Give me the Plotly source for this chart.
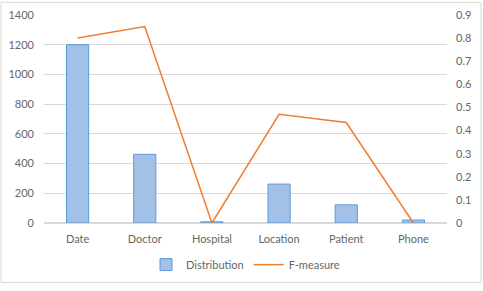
import plotly.graph_objects as go

categories = ["Date", "Doctor", "Hospital", "Location", "Patient", "Phone"]
distribution = [1200, 462, 8, 262, 122, 20]
f_measure = [0.80, 0.85, 0.0, 0.47, 0.435, 0.0]
left_ticks = [0, 200, 400, 600, 800, 1000, 1200, 1400]
right_ticks = [0, 0.1, 0.2, 0.3, 0.4, 0.5, 0.6, 0.7, 0.8, 0.9]

font = dict(family="Lato, Open Sans, sans-serif", size=11, color="#666666")

fig = go.Figure()
fig.add_trace(go.Bar(
    x=categories, y=distribution, name="Distribution",
    marker=dict(color="#a3c0e6", line=dict(color="#5b9bd5", width=1)),
    width=0.33,
))
fig.add_trace(go.Scatter(
    x=categories, y=f_measure, name="F-measure", yaxis="y2",
    mode="lines", line=dict(color="#ed7d31", width=1.5),
))

fig.update_layout(
    width=483, height=291,
    margin=dict(l=44, r=36, t=15, b=63),
    paper_bgcolor="white", plot_bgcolor="white",
    font=font,
    showlegend=True,
    legend=dict(orientation="h", x=0.5, xanchor="center", y=-0.2, yanchor="middle",
                font=font, itemwidth=30, tracegroupgap=0),
    xaxis=dict(showgrid=False, showline=False, ticks="", tickfont=font,
               automargin=False, ticklabelstandoff=8),
    yaxis=dict(range=[0, 1400], tickvals=left_ticks, showgrid=True, gridcolor="#d9d9d9",
               gridwidth=1, zeroline=True, zerolinecolor="#d9d9d9", showline=False,
               ticks="", tickfont=font, automargin=False, ticklabelstandoff=9),
    yaxis2=dict(range=[0, 0.9], tickvals=right_ticks, overlaying="y", side="right",
                showgrid=False, zeroline=False, showline=False, ticks="", tickfont=font,
                automargin=False, ticklabelstandoff=8),
    shapes=[dict(type="rect", xref="paper", yref="paper", x0=-43/403, x1=1+34/403,
                 y0=-61/213, y1=1+13/213, line=dict(color="#d9d9d9", width=1))],
)

post = (
    "document.documentElement.style.margin='0';"
    "document.documentElement.style.padding='0';"
    "document.documentElement.style.overflow='hidden';"
    "document.body.style.margin='0';"
    "document.body.style.padding='0';"
    "document.body.style.overflow='hidden';"
)

fig.write_html("out.html", config={"displayModeBar": False}, post_script=post)
